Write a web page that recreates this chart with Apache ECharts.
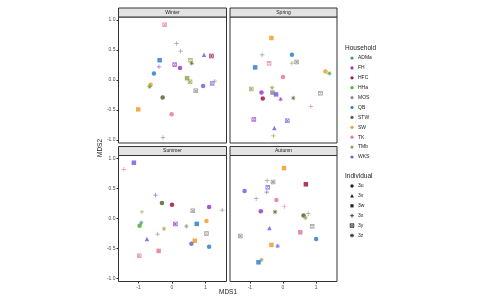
<!DOCTYPE html>
<html>
<head>
<meta charset="utf-8">
<script src="https://cdn.jsdelivr.net/npm/echarts@6/dist/echarts.min.js"></script>
<style>html,body{margin:0;padding:0;background:#fff}#c{width:479px;height:297px}</style>
</head>
<body>
<div id="c"></div>
<script>
const seasons = ['Winter', 'Spring', 'Summer', 'Autumn'];
const households = ['ADMa', 'FH', 'HFC', 'HHa', 'MOS', 'QB', 'STW', 'SW', 'TK', 'TMb', 'WKS'];
const individuals = ['3u', '3v', '3w', '3x', '3y', '3z'];
const xTicks = [-1, 0, 1];
const yTicks = [-1.0, -0.5, 0.0, 0.5, 1.0];

// [MDS1, MDS2, household, individual]
const winter = [
  [-0.22, 0.92, 'TK', '3y'], [0.14, 0.61, 'MOS', '3x'], [0.26, 0.48, 'MOS', '3x'],
  [0.96, 0.42, 'WKS', '3v'], [1.18, 0.40, 'HFC', '3y'], [-0.37, 0.33, 'QB', '3w'],
  [-0.39, 0.22, 'WKS', '3x'], [0.08, 0.26, 'FH', '3y'], [0.24, 0.20, 'FH', '3u'],
  [0.55, 0.33, 'TMb', '3y'], [0.59, 0.28, 'STW', '3z'], [-0.54, 0.11, 'QB', '3u'],
  [0.45, 0.03, 'TMb', '3w'], [0.54, -0.03, 'TMb', '3y'], [0.71, -0.18, 'MOS', '3y'],
  [0.93, -0.10, 'WKS', '3u'], [1.20, -0.06, 'WKS', '3y'], [1.28, -0.02, 'MOS', '3x'],
  [-0.64, -0.08, 'SW', '3u'], [-0.67, -0.11, 'HHa', '3z'], [-0.28, -0.29, 'STW', '3u'],
  [-1.01, -0.49, 'SW', '3w'], [-0.01, -0.57, 'TK', '3u'], [-0.27, -0.96, 'MOS', '3x']
];
const spring = [
  [-0.35, 0.70, 'SW', '3w'], [-0.63, 0.42, 'MOS', '3x'], [0.27, 0.42, 'QB', '3u'],
  [0.27, 0.28, 'TMb', '3x'], [0.41, 0.30, 'MOS', '3y'], [-0.84, 0.21, 'QB', '3w'],
  [-0.42, 0.28, 'TK', '3y'], [0.00, 0.05, 'TK', '3u'], [1.28, 0.14, 'SW', '3u'],
  [1.40, 0.11, 'HHa', '3z'], [-0.96, -0.15, 'TMb', '3y'], [-0.33, -0.13, 'TMb', '3z'],
  [-0.32, -0.21, 'MOS', '3w'], [-0.65, -0.21, 'FH', '3u'], [-0.61, -0.31, 'HFC', '3u'],
  [-0.21, -0.24, 'WKS', '3w'], [-0.07, -0.32, 'FH', '3z'], [0.31, -0.30, 'STW', '3z'],
  [1.13, -0.22, 'MOS', '3y'], [0.84, -0.44, 'TK', '3x'], [-0.88, -0.66, 'FH', '3y'],
  [0.13, -0.68, 'WKS', '3y'], [-0.26, -0.80, 'WKS', '3v'], [-0.29, -0.93, 'TMb', '3x']
];
const summer = [
  [-1.44, 0.82, 'TK', '3x'], [-1.14, 0.93, 'WKS', '3w'], [-0.49, 0.39, 'WKS', '3x'],
  [-0.30, 0.26, 'STW', '3u'], [0.00, 0.23, 'HFC', '3u'], [0.62, 0.13, 'MOS', '3y'],
  [1.11, 0.19, 'FH', '3u'], [1.50, 0.14, 'MOS', '3x'], [-0.90, 0.11, 'TMb', '3x'],
  [-0.92, -0.07, 'ADMa', '3z'], [-0.97, -0.12, 'HHa', '3u'], [0.10, -0.09, 'FH', '3y'],
  [-0.24, -0.17, 'TMb', '3z'], [0.43, -0.13, 'MOS', '3z'], [0.74, -0.09, 'QB', '3w'],
  [1.03, -0.04, 'SW', '3u'], [-0.43, -0.26, 'MOS', '3x'], [-0.75, -0.34, 'WKS', '3v'],
  [1.03, -0.25, 'MOS', '3y'], [0.68, -0.37, 'SW', '3w'], [0.58, -0.42, 'WKS', '3u'],
  [1.11, -0.47, 'QB', '3u'], [-0.40, -0.54, 'TK', '3w'], [-0.98, -0.62, 'TK', '3y']
];
const autumn = [
  [0.03, 0.84, 'SW', '3w'], [-0.48, 0.63, 'MOS', '3x'], [-0.30, 0.61, 'MOS', '3y'],
  [0.69, 0.57, 'HFC', '3w'], [-0.46, 0.52, 'WKS', '3y'], [-0.49, 0.44, 'WKS', '3x'],
  [-1.16, 0.46, 'WKS', '3u'], [-0.81, 0.33, 'MOS', '3x'], [-0.20, 0.31, 'TK', '3u'],
  [0.04, 0.20, 'TK', '3x'], [-0.67, 0.12, 'FH', '3u'], [-0.24, 0.11, 'STW', '3z'],
  [0.62, 0.05, 'STW', '3u'], [0.76, 0.08, 'MOS', '3x'], [0.68, 0.01, 'TMb', '3z'],
  [-0.41, -0.16, 'WKS', '3v'], [0.88, -0.13, 'MOS', '3y'], [0.52, -0.23, 'TK', '3w'],
  [1.00, -0.34, 'QB', '3u'], [-1.29, -0.29, 'MOS', '3y'], [-0.35, -0.44, 'SW', '3w'],
  [-0.16, -0.46, 'WKS', '3z'], [-0.65, -0.69, 'TMb', '3z'], [-0.74, -0.73, 'QB', '3w']
];
const panelData = [winter, spring, summer, autumn];

const householdColors = {
  ADMa: '#2f9e86', FH: '#9b36cf', HFC: '#a3143f', HHa: '#4fae3a', MOS: '#8e8e8e',
  QB: '#2f80d2', STW: '#52692c', SW: '#f0a02c', TK: '#e27b9c', TMb: '#9ca14c', WKS: '#7a5ce2'
};
const shapes = {
  '3u': 'circle',
  '3v': 'triangle',
  '3w': 'rect',
  '3x': 'path://M4.2,0H5.8V4.2H10V5.8H5.8V10H4.2V5.8H0V4.2H4.2Z',
  '3y': 'path://M0,0H10V10H0Z M1.6,1.6V8.4H8.4V1.6Z M1.6,2.8L2.8,1.6L8.4,7.2L7.2,8.4Z M7.2,1.6L8.4,2.8L2.8,8.4L1.6,7.2Z',
  '3z': 'path://M4.3,0H5.7V10H4.3Z M0,4.3H10V5.7H0Z M1,2L2,1L9,8L8,9Z M8,1L9,2L2,9L1,8Z'
};

const FONT = 'Liberation Sans, Arial, sans-serif';
const L = [118.5, 230];      // panel lefts
const W = [108, 107];        // panel widths
const T = [17, 155.5];       // panel tops (below strips)
const H = 126;
const STRIP = 9;

const grids = [], xAxes = [], yAxes = [], series = [], graphics = [];
seasons.forEach((s, i) => {
  const col = i % 2, row = Math.floor(i / 2);
  grids.push({ left: L[col], top: T[row], width: W[col], height: H, show: true,
    borderColor: '#333', borderWidth: 1, backgroundColor: '#fff', containLabel: false });
  xAxes.push({ gridIndex: i, type: 'value', min: -1.6, max: 1.63, position: 'bottom',
    splitLine: { show: false }, axisLine: { show: false, onZero: false },
    axisTick: { show: row === 1, length: 2, lineStyle: { color: '#333' }, customValues: xTicks },
    axisLabel: { show: row === 1, fontSize: 5, color: '#4d4d4d', margin: 4, fontFamily: FONT, customValues: xTicks } });
  yAxes.push({ gridIndex: i, type: 'value', min: -1.05, max: 1.05, position: 'left',
    splitLine: { show: false }, axisLine: { show: false, onZero: false },
    axisTick: { show: col === 0, length: 2, lineStyle: { color: '#333' }, customValues: yTicks },
    axisLabel: { show: col === 0, fontSize: 5, color: '#4d4d4d', margin: 3, fontFamily: FONT,
      customValues: yTicks, formatter: v => v.toFixed(1) } });
  series.push({ type: 'scatter', xAxisIndex: i, yAxisIndex: i, symbolSize: 4.5,
    data: panelData[i].map(d => ({ value: [d[0], d[1]], symbol: shapes[d[3]],
      itemStyle: { color: householdColors[d[2]], opacity: 0.85 } })) });
  graphics.push({ type: 'rect', shape: { x: L[col], y: T[row] - STRIP, width: W[col], height: STRIP },
    style: { fill: '#e3e3e3', stroke: '#333', lineWidth: 1 } });
  graphics.push({ type: 'text', x: L[col] + W[col] / 2, y: T[row] - STRIP / 2,
    style: { text: s, fontSize: 5, fill: '#1a1a1a', align: 'center', verticalAlign: 'middle', fontFamily: FONT } });
});

graphics.push({ type: 'text', x: 228, y: 292, style: { text: 'MDS1', fontSize: 6.5, fill: '#1a1a1a',
  align: 'center', verticalAlign: 'middle', fontFamily: FONT } });
graphics.push({ type: 'text', x: 100, y: 148, rotation: Math.PI / 2, style: { text: 'MDS2', fontSize: 6.5,
  fill: '#1a1a1a', align: 'center', verticalAlign: 'middle', fontFamily: FONT } });

// legends
const LX = 345, SX = 352, TX = 358;
graphics.push({ type: 'text', x: LX, y: 48, style: { text: 'Household', fontSize: 6.5, fill: '#1a1a1a',
  verticalAlign: 'middle', fontFamily: FONT } });
households.forEach((h, k) => {
  const y = 58 + k * 9.9;
  graphics.push({ type: 'circle', shape: { cx: SX, cy: y, r: 1.6 }, style: { fill: householdColors[h] } });
  graphics.push({ type: 'text', x: TX, y: y, style: { text: h, fontSize: 5, fill: '#1a1a1a',
    verticalAlign: 'middle', fontFamily: FONT } });
});
graphics.push({ type: 'text', x: LX, y: 176, style: { text: 'Individual', fontSize: 6.5, fill: '#1a1a1a',
  verticalAlign: 'middle', fontFamily: FONT } });

const LS = { stroke: '#222', lineWidth: 0.8 };
individuals.forEach((ind, k) => {
  const y = 186 + k * 9.9;
  const els = [];
  if (ind === '3u') {
    els.push({ type: 'circle', shape: { cx: SX, cy: y, r: 1.7 }, style: { fill: '#222' } });
  } else if (ind === '3v') {
    els.push({ type: 'polygon', shape: { points: [[SX, y - 1.9], [SX + 1.9, y + 1.5], [SX - 1.9, y + 1.5]] }, style: { fill: '#222' } });
  } else if (ind === '3w') {
    els.push({ type: 'rect', shape: { x: SX - 1.6, y: y - 1.6, width: 3.2, height: 3.2 }, style: { fill: '#222' } });
  } else if (ind === '3x') {
    els.push({ type: 'line', shape: { x1: SX - 2, y1: y, x2: SX + 2, y2: y }, style: LS });
    els.push({ type: 'line', shape: { x1: SX, y1: y - 2, x2: SX, y2: y + 2 }, style: LS });
  } else if (ind === '3y') {
    els.push({ type: 'rect', shape: { x: SX - 1.8, y: y - 1.8, width: 3.6, height: 3.6 }, style: { fill: 'none', stroke: '#222', lineWidth: 0.8 } });
    els.push({ type: 'line', shape: { x1: SX - 1.8, y1: y - 1.8, x2: SX + 1.8, y2: y + 1.8 }, style: LS });
    els.push({ type: 'line', shape: { x1: SX + 1.8, y1: y - 1.8, x2: SX - 1.8, y2: y + 1.8 }, style: LS });
  } else {
    els.push({ type: 'line', shape: { x1: SX - 2, y1: y, x2: SX + 2, y2: y }, style: LS });
    els.push({ type: 'line', shape: { x1: SX, y1: y - 2, x2: SX, y2: y + 2 }, style: LS });
    els.push({ type: 'line', shape: { x1: SX - 1.5, y1: y - 1.5, x2: SX + 1.5, y2: y + 1.5 }, style: LS });
    els.push({ type: 'line', shape: { x1: SX + 1.5, y1: y - 1.5, x2: SX - 1.5, y2: y + 1.5 }, style: LS });
  }
  els.forEach(e => graphics.push(e));
  graphics.push({ type: 'text', x: TX, y: y, style: { text: ind, fontSize: 5, fill: '#1a1a1a',
    verticalAlign: 'middle', fontFamily: FONT } });
});

const chart = echarts.init(document.getElementById('c'), null, { renderer: 'canvas' });
chart.setOption({
  animation: false,
  grid: grids, xAxis: xAxes, yAxis: yAxes, series: series, graphic: graphics
});
</script>
</body>
</html>
